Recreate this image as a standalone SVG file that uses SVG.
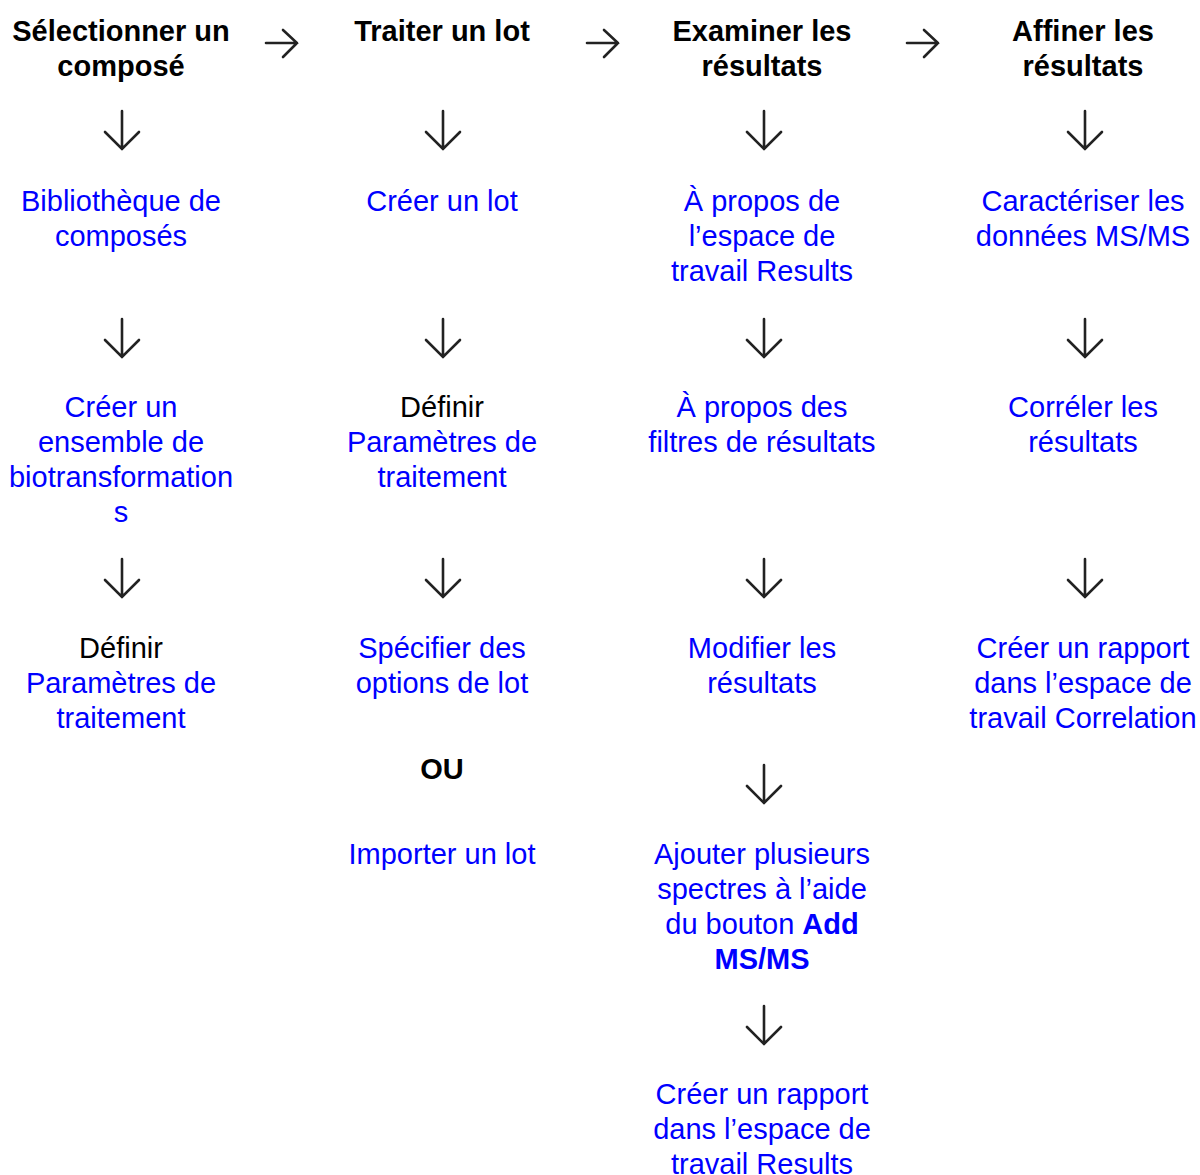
<svg xmlns="http://www.w3.org/2000/svg" width="1200" height="1175" viewBox="0 0 1200 1175">
<style>
text{font-family:"Liberation Sans",Arial,sans-serif;font-size:29px;text-anchor:middle}
.h{font-weight:bold;fill:#000}
.l{fill:#0000ff}
.t{fill:#000}
.b{font-weight:bold}
.a{fill:none;stroke:#222;stroke-width:2.6;stroke-linecap:round;stroke-linejoin:miter}
</style>
<rect width="1200" height="1175" fill="#fff"/>
<g id="connectors">
<path class="a" d="M266 43H297M283 30L297 43L283 57"/>
<path class="a" d="M587 43H618M604 30L618 43L604 57"/>
<path class="a" d="M907 43H938M924 30L938 43L924 57"/>
<path class="a" d="M122 111V149M105 132L122 149L139 132"/>
<path class="a" d="M443 111V149M426 132L443 149L460 132"/>
<path class="a" d="M764 111V149M747 132L764 149L781 132"/>
<path class="a" d="M1085 111V149M1068 132L1085 149L1102 132"/>
<path class="a" d="M122 319V357M105 340L122 357L139 340"/>
<path class="a" d="M443 319V357M426 340L443 357L460 340"/>
<path class="a" d="M764 319V357M747 340L764 357L781 340"/>
<path class="a" d="M1085 319V357M1068 340L1085 357L1102 340"/>
<path class="a" d="M122 559V597M105 580L122 597L139 580"/>
<path class="a" d="M443 559V597M426 580L443 597L460 580"/>
<path class="a" d="M764 559V597M747 580L764 597L781 580"/>
<path class="a" d="M1085 559V597M1068 580L1085 597L1102 580"/>
<path class="a" d="M764 765V803M747 786L764 803L781 786"/>
<path class="a" d="M764 1006V1044M747 1027L764 1044L781 1027"/>
</g>
<g id="h1"><text class="h" x="121" y="41">Sélectionner un</text><text class="h" x="121" y="76">composé</text></g>
<g id="h2"><text class="h" x="442" y="41">Traiter un lot</text></g>
<g id="h3"><text class="h" x="762" y="41">Examiner les</text><text class="h" x="762" y="76">résultats</text></g>
<g id="h4"><text class="h" x="1083" y="41">Affiner les</text><text class="h" x="1083" y="76">résultats</text></g>
<g id="c1r1"><text class="l" x="121" y="211">Bibliothèque de</text><text class="l" x="121" y="246">composés</text></g>
<g id="c2r1"><text class="l" x="442" y="211">Créer un lot</text></g>
<g id="c3r1"><text class="l" x="762" y="211">À propos de</text><text class="l" x="762" y="246">l’espace de</text><text class="l" x="762" y="281">travail Results</text></g>
<g id="c4r1"><text class="l" x="1083" y="211">Caractériser les</text><text class="l" x="1083" y="246">données MS/MS</text></g>
<g id="c1r2"><text class="l" x="121" y="417">Créer un</text><text class="l" x="121" y="452">ensemble de</text><text class="l" x="121" y="487">biotransformation</text><text class="l" x="121" y="522">s</text></g>
<g id="c2r2"><text class="t" x="442" y="417">Définir</text><text class="l" x="442" y="452">Paramètres de</text><text class="l" x="442" y="487">traitement</text></g>
<g id="c3r2"><text class="l" x="762" y="417">À propos des</text><text class="l" x="762" y="452">filtres de résultats</text></g>
<g id="c4r2"><text class="l" x="1083" y="417">Corréler les</text><text class="l" x="1083" y="452">résultats</text></g>
<g id="c1r3"><text class="t" x="121" y="658">Définir</text><text class="l" x="121" y="693">Paramètres de</text><text class="l" x="121" y="728">traitement</text></g>
<g id="c2r3"><text class="l" x="442" y="658">Spécifier des</text><text class="l" x="442" y="693">options de lot</text></g>
<g id="c3r3"><text class="l" x="762" y="658">Modifier les</text><text class="l" x="762" y="693">résultats</text></g>
<g id="c4r3"><text class="l" x="1083" y="658">Créer un rapport</text><text class="l" x="1083" y="693">dans l’espace de</text><text class="l" x="1083" y="728">travail Correlation</text></g>
<g id="ou"><text class="h" x="442" y="779">OU</text></g>
<g id="c2r4"><text class="l" x="442" y="864">Importer un lot</text></g>
<g id="c3r4"><text class="l" x="762" y="864">Ajouter plusieurs</text><text class="l" x="762" y="899">spectres à l’aide</text><text class="l" x="762" y="934">du bouton <tspan class="b">Add</tspan></text><text class="l b" x="762" y="969">MS/MS</text></g>
<g id="c3r5"><text class="l" x="762" y="1104">Créer un rapport</text><text class="l" x="762" y="1139">dans l’espace de</text><text class="l" x="762" y="1174">travail Results</text></g>
</svg>
